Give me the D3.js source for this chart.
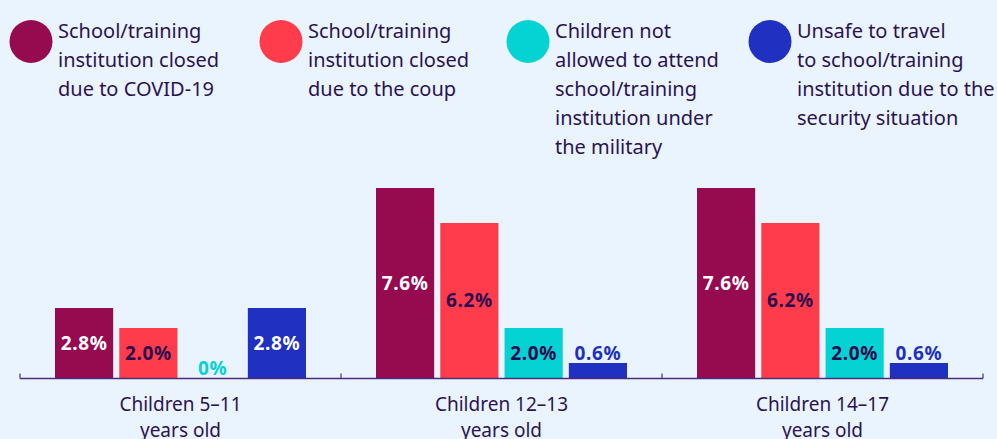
<!DOCTYPE html>
<html>
<head>
<meta charset="utf-8">
<script src="https://cdn.jsdelivr.net/npm/d3@7"></script>
<style>
  html, body { margin: 0; padding: 0; background: #eaf4fe; }
  svg { display: block; font-family: "Noto Sans", sans-serif; }
</style>
</head>
<body>
<div id="chart"></div>
<script>
// data
var groups = ["Children 5\u201311|years old", "Children 12\u201313|years old", "Children 14\u201317|years old"];
var seriesNames = [
  "School/training|institution closed|due to COVID-19",
  "School/training|institution closed|due to the coup",
  "Children not|allowed to attend|school/training|institution under|the military",
  "Unsafe to travel|to school/training|institution due to the|security situation"
];
var covid = [2.8, 7.6, 7.6];
var coup = [2.0, 6.2, 6.2];
var military = [0, 2.0, 2.0];
var unsafe = [2.8, 0.6, 0.6];
var valueLabels = [
  ["2.8%", "7.6%", "7.6%"],
  ["2.0%", "6.2%", "6.2%"],
  ["0%", "2.0%", "2.0%"],
  ["2.8%", "0.6%", "0.6%"]
];

var colors = ["#960a50", "#ff3c4b", "#05d2d2", "#2030c0"];
var inkIn = ["#ffffff", "#2a0a50", "#2a0a50", "#ffffff"];
var textColor = "#2a1350";

var width = 997, height = 439;
var series = [covid, coup, military, unsafe];
var legendPos = [31, 281, 528, 770]; // layout of legend entries

var svg = d3.select("#chart").append("svg")
    .attr("width", width)
    .attr("height", height);

svg.append("rect").attr("width", width).attr("height", height).attr("fill", "#eaf4fe");

// legend
var legend = svg.append("g");
seriesNames.forEach(function(name, i) {
  var g = legend.append("g").attr("transform", "translate(" + legendPos[i] + ",0)");
  g.append("circle").attr("cx", 0).attr("cy", 41.5).attr("r", 21.5).attr("fill", colors[i]);
  var t = g.append("text").attr("x", 27).attr("y", 38)
      .attr("fill", textColor).style("font-size", "20px");
  name.split("|").forEach(function(line, j) {
    t.append("tspan").attr("x", 27).attr("y", 38 + j * 29).text(line);
  });
});

// scales
var x0 = d3.scaleBand().domain(d3.range(groups.length)).range([20, 983]).paddingInner(0).paddingOuter(0);
var x1 = d3.scaleBand().domain(d3.range(4)).range([35, x0.bandwidth() - 35]).paddingInner(0.095).paddingOuter(0);
var y = d3.scaleLinear().domain([0, 8]).range([378, 178]);

// bars
var bars = svg.append("g");
groups.forEach(function(gname, gi) {
  var g = bars.append("g").attr("transform", "translate(" + x0(gi) + ",0)");
  series.forEach(function(vals, si) {
    var v = vals[gi];
    var bx = x1(si), bw = x1.bandwidth();
    if (v > 0) {
      g.append("rect")
        .attr("x", bx).attr("width", bw)
        .attr("y", y(v)).attr("height", y(0) - y(v))
        .attr("fill", colors[si]);
    }
    var inside = (y(0) - y(v)) > 30;
    g.append("text")
      .attr("x", bx + bw / 2)
      .attr("y", inside ? (y(v) + y(0)) / 2 : y(v) - 3)
      .attr("dy", inside ? "0.35em" : 0)
      .attr("text-anchor", "middle")
      .attr("fill", inside ? inkIn[si] : colors[si])
      .style("font-size", "19px").style("font-weight", "bold")
      .style("letter-spacing", "0.6px")
      .text(valueLabels[si][gi]);
  });
});

// x axis
var axis = svg.append("g").attr("transform", "translate(0,378.5)");
axis.append("line").attr("x1", 20).attr("x2", 983).attr("stroke", "#4a2c7a").attr("stroke-width", 1.5);
var tickPos = groups.map(function(d, i) { return x0(i); }).concat([x0.range()[1]]);
axis.selectAll(".tk").data(tickPos).enter().append("line")
  .attr("x1", function(d) { return d; }).attr("x2", function(d) { return d; })
  .attr("y1", -5).attr("y2", 0)
  .attr("stroke", "#4a2c7a").attr("stroke-width", 1.2);

groups.forEach(function(gname, gi) {
  var t = axis.append("text").attr("text-anchor", "middle")
    .attr("fill", textColor).style("font-size", "19px");
  gname.split("|").forEach(function(line, j) {
    t.append("tspan").attr("x", x0(gi) + x0.bandwidth() / 2).attr("y", 32 + j * 26.5).text(line);
  });
});
</script>
</body>
</html>
